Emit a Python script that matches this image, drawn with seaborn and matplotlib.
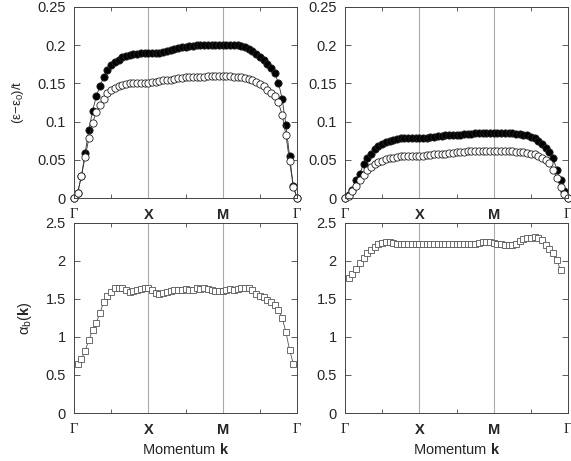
import numpy as np
import seaborn as sns
import matplotlib
matplotlib.use("Agg")
import matplotlib.pyplot as plt
from matplotlib.ticker import FormatStrFormatter, MultipleLocator

# energies along Gamma-X-M-Gamma (20 k-points per segment)
k_top = np.arange(61)
top_left_filled = [0.000, 0.007, 0.029, 0.059, 0.089, 0.114, 0.133, 0.147, 0.158, 0.167,
                   0.174, 0.178, 0.181, 0.184, 0.186, 0.187, 0.188, 0.189, 0.190, 0.190,
                   0.190, 0.190, 0.190, 0.190, 0.191, 0.193, 0.194, 0.195, 0.196, 0.197,
                   0.198, 0.199, 0.199, 0.200, 0.200, 0.200, 0.200, 0.200, 0.200, 0.200,
                   0.200, 0.200, 0.200, 0.200, 0.200, 0.199, 0.197, 0.195, 0.192, 0.189,
                   0.185, 0.181, 0.176, 0.170, 0.163, 0.151, 0.130, 0.096, 0.055, 0.016, 0.000]
top_left_open = [0.000, 0.007, 0.029, 0.054, 0.078, 0.098, 0.113, 0.122, 0.130, 0.137,
                 0.141, 0.144, 0.146, 0.148, 0.149, 0.150, 0.150, 0.151, 0.151, 0.151,
                 0.151, 0.152, 0.152, 0.153, 0.154, 0.155, 0.155, 0.156, 0.157, 0.157,
                 0.158, 0.158, 0.158, 0.159, 0.159, 0.159, 0.160, 0.160, 0.160, 0.160,
                 0.160, 0.160, 0.160, 0.159, 0.159, 0.158, 0.157, 0.156, 0.154, 0.152,
                 0.149, 0.146, 0.142, 0.138, 0.133, 0.125, 0.109, 0.083, 0.048, 0.015, 0.000]
top_right_filled = [0.000, 0.004, 0.011, 0.024, 0.032, 0.045, 0.052, 0.058, 0.064, 0.068,
                    0.071, 0.073, 0.075, 0.076, 0.077, 0.078, 0.078, 0.078, 0.079, 0.079,
                    0.079, 0.079, 0.079, 0.080, 0.080, 0.081, 0.081, 0.082, 0.082, 0.083,
                    0.083, 0.083, 0.084, 0.084, 0.084, 0.085, 0.085, 0.085, 0.085, 0.085,
                    0.085, 0.085, 0.085, 0.085, 0.085, 0.085, 0.084, 0.084, 0.083, 0.082,
                    0.080, 0.078, 0.075, 0.071, 0.066, 0.060, 0.052, 0.037, 0.024, 0.009, 0.000]
top_right_open = [0.000, 0.003, 0.009, 0.016, 0.023, 0.030, 0.037, 0.041, 0.044, 0.047,
                  0.049, 0.051, 0.052, 0.053, 0.054, 0.055, 0.055, 0.055, 0.055, 0.055,
                  0.055, 0.055, 0.056, 0.056, 0.057, 0.057, 0.058, 0.058, 0.059, 0.059,
                  0.060, 0.060, 0.060, 0.061, 0.061, 0.061, 0.061, 0.061, 0.061, 0.061,
                  0.061, 0.061, 0.061, 0.061, 0.061, 0.061, 0.060, 0.060, 0.060, 0.059,
                  0.058, 0.057, 0.055, 0.053, 0.050, 0.046, 0.037, 0.026, 0.015, 0.005, 0.000]

# alpha_b(k), Gamma points left out
k_bot_left = np.arange(1, 60)
bottom_left = [0.65, 0.71, 0.82, 0.96, 1.09, 1.19, 1.32, 1.46, 1.54, 1.59,
               1.64, 1.65, 1.65, 1.62, 1.59, 1.61, 1.62, 1.63, 1.64, 1.65,
               1.62, 1.58, 1.57, 1.58, 1.59, 1.61, 1.62, 1.62, 1.62, 1.63,
               1.62, 1.62, 1.64, 1.63, 1.65, 1.63, 1.62, 1.60, 1.60, 1.60,
               1.62, 1.63, 1.62, 1.63, 1.64, 1.64, 1.65, 1.62, 1.56, 1.54,
               1.52, 1.49, 1.46, 1.42, 1.36, 1.25, 1.07, 0.83, 0.65]
k_bot_right = np.arange(1, 59)
bottom_right = [1.77, 1.83, 1.90, 1.97, 2.04, 2.10, 2.15, 2.19, 2.22, 2.24,
                2.25, 2.25, 2.24, 2.23, 2.22, 2.22, 2.22, 2.22, 2.22, 2.22,
                2.22, 2.23, 2.23, 2.23, 2.23, 2.23, 2.23, 2.23, 2.23, 2.23,
                2.23, 2.23, 2.23, 2.23, 2.23, 2.24, 2.25, 2.25, 2.25, 2.24,
                2.23, 2.22, 2.21, 2.21, 2.21, 2.22, 2.26, 2.29, 2.30, 2.30,
                2.31, 2.30, 2.27, 2.21, 2.16, 2.10, 2.01, 1.88]

sym_pos = [0, 20, 40, 60]
sym_labels = ["Γ", "X", "M", "Γ"]

sns.set_style("ticks")
plt.rcParams["font.family"] = ["Liberation Sans", "DejaVu Sans"]
plt.rcParams["mathtext.fontset"] = "custom"
plt.rcParams["mathtext.rm"] = "Liberation Sans"
plt.rcParams["mathtext.it"] = "Liberation Sans:italic"
plt.rcParams["mathtext.bf"] = "Liberation Sans:bold"

fig = plt.figure(figsize=(5.71, 4.61), dpi=100)
W = 223 / 571
ax_tl = fig.add_axes([74 / 571, 1 - 198 / 461, W, 191 / 461])
ax_tr = fig.add_axes([345 / 571, 1 - 198 / 461, W, 191 / 461])
ax_bl = fig.add_axes([74 / 571, 1 - 413 / 461, W, 190 / 461])
ax_br = fig.add_axes([345 / 571, 1 - 413 / 461, W, 190 / 461])

line_kw = dict(color="#333333", linewidth=0.6, markersize=5.2,
               markeredgecolor="#222222", markeredgewidth=0.6, clip_on=False)

for ax, filled, opened in [(ax_tl, top_left_filled, top_left_open),
                           (ax_tr, top_right_filled, top_right_open)]:
    sns.lineplot(x=k_top, y=filled, ax=ax, marker="o", markerfacecolor="black", **line_kw)
    sns.lineplot(x=k_top, y=opened, ax=ax, marker="o", markerfacecolor="white", **line_kw)
    ax.set_ylim(0, 0.25)
    ax.yaxis.set_major_locator(MultipleLocator(0.05))

for ax, kk, vals in [(ax_bl, k_bot_left, bottom_left), (ax_br, k_bot_right, bottom_right)]:
    sns.lineplot(x=kk, y=vals, ax=ax, marker="s", markerfacecolor="white",
                 **dict(line_kw, markersize=4.6, markeredgecolor="#555555", color="#555555"))
    ax.set_ylim(0, 2.5)
    ax.yaxis.set_major_locator(MultipleLocator(0.5))

for ax in [ax_tl, ax_tr, ax_bl, ax_br]:
    ax.set_xlim(0, 60)
    ax.set_xticks(sym_pos)
    ax.set_xticklabels(sym_labels)
    ax.set_xticks([10, 30, 50], minor=True)
    for lab in ax.get_xticklabels():
        if lab.get_text() == "Γ":
            lab.set_fontfamily("Liberation Serif")
            lab.set_fontsize(12)
        else:
            lab.set_fontweight("bold")
    for xv in [20, 40]:
        ax.axvline(xv, color="#aaaaaa", linewidth=0.8, zorder=0)
    ax.yaxis.set_major_formatter(FormatStrFormatter("%g"))
    ax.tick_params(axis="both", which="both", direction="in", top=True, right=True,
                   labelsize=10.5, color="#444444", width=0.6)
    ax.tick_params(axis="y", length=4, pad=6)
    ax.tick_params(axis="x", which="major", length=0, pad=7)
    ax.tick_params(axis="x", which="minor", length=3)
    for sp in ax.spines.values():
        sp.set_color("#444444")
        sp.set_linewidth(0.7)
    ax.set_xlabel("")
    ax.set_ylabel("")

ax_tl.set_ylabel("(ε−ε$_{0}$)/t", fontsize=9.5, labelpad=8)
ax_bl.set_ylabel("α$_{\\mathrm{b}}$($\\mathbf{k}$)", fontsize=10.5, labelpad=8)
ax_bl.set_xlabel("Momentum $\\mathbf{k}$", fontsize=10.5, labelpad=4)
ax_br.set_xlabel("Momentum $\\mathbf{k}$", fontsize=10.5, labelpad=4)

fig.savefig("out.png", dpi=100)
